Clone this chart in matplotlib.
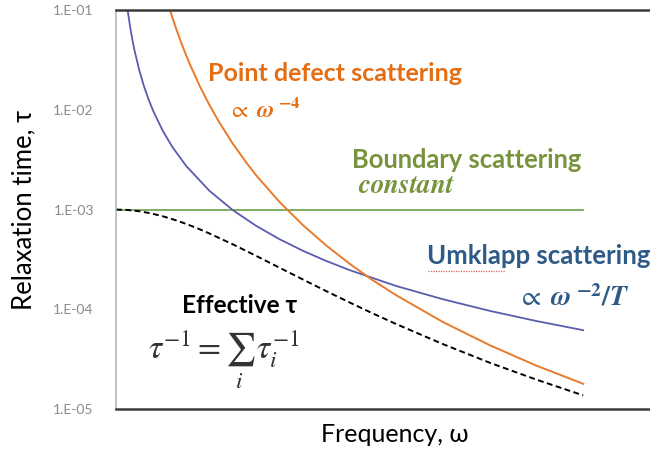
import matplotlib
matplotlib.use("Agg")
import matplotlib.pyplot as plt

plt.rcParams["font.family"] = ["Lato", "DejaVu Sans"]
plt.rcParams["mathtext.fontset"] = "stix"

# ── values (frequency in arbitrary units) ────────────────────────────────
umklapp_w = [0.25, 0.3, 0.35, 0.4, 0.5, 0.6, 0.7, 0.8, 1.0, 1.2, 1.5, 2.0,
             2.5, 3.0, 3.5, 4.0, 4.5, 5.0, 6.0, 7.0, 8.0, 9.0, 10.0]
umklapp_tau = [0.0987, 0.0686, 0.0504, 0.0386, 0.0247, 0.0171, 0.0126,
               0.00964, 0.00617, 0.00428, 0.00274, 0.00154, 0.000987,
               0.000686, 0.000504, 0.000386, 0.000305, 0.000247, 0.000171,
               0.000126, 9.64e-5, 7.62e-5, 6.17e-5]

point_w = [1.16, 1.2, 1.3, 1.4, 1.5, 1.6, 1.8, 2.0, 2.2, 2.5, 2.8, 3.0,
           3.5, 4.0, 4.5, 5.0, 5.5, 6.0, 7.0, 8.0, 9.0, 10.0]
point_tau = [0.0986, 0.0861, 0.0625, 0.0465, 0.0353, 0.0273, 0.0170,
             0.01116, 0.00762, 0.00457, 0.00291, 0.00220, 0.00119,
             0.000698, 0.000436, 0.000286, 0.000195, 0.000138, 7.44e-5,
             4.36e-5, 2.72e-5, 1.79e-5]

boundary_w = [0.0, 10.0]
boundary_tau = [1e-3, 1e-3]

eff_w = [0.0, 0.25, 0.5, 0.75, 1.0, 1.25, 1.5, 1.75, 2.0, 2.5, 3.0, 3.5,
         4.0, 4.5, 5.0, 5.5, 6.0, 7.0, 8.0, 9.0, 10.0]
eff_tau = [1.0e-3, 9.90e-4, 9.61e-4, 9.15e-4, 8.56e-4, 7.89e-4, 7.18e-4,
           6.46e-4, 5.75e-4, 4.48e-4, 3.43e-4, 2.61e-4, 1.99e-4, 1.52e-4,
           1.17e-4, 9.07e-5, 7.10e-5, 4.47e-5, 2.91e-5, 1.97e-5, 1.37e-5]

y_ticks = [1e-5, 1e-4, 1e-3, 1e-2, 1e-1]
y_labels = ["1.E-05", "1.E-04", "1.E-03", "1.E-02", "1.E-01"]

ORANGE = "#E97A2B"
ORANGE_TXT = "#E56D12"
BLUE = "#5A5CAE"
BLUE_TXT = "#2E5A86"
GREEN = "#6A9E4A"
GREEN_TXT = "#77933C"

fig = plt.figure(figsize=(6.5, 4.57), dpi=100)
ax = fig.add_axes([0.1785, 0.105, 0.8215, 0.873])

ax.plot(boundary_w, boundary_tau, color=GREEN, lw=1.2)
ax.plot(umklapp_w, umklapp_tau, color=BLUE, lw=1.3)
ax.plot(point_w, point_tau, color=ORANGE, lw=1.4)
ax.plot(eff_w, eff_tau, color="black", lw=1.4, ls=(0, (3, 1.8)))

ax.set_yscale("log")
ax.set_ylim(1e-5, 1e-1)
ax.set_xlim(0, 11.43)
ax.set_yticks(y_ticks)
ax.set_yticklabels(y_labels, fontsize=10, color="#8a8a8a")
ax.minorticks_off()
ax.set_xticks([])
ax.tick_params(axis="y", length=0, pad=16)

for side in ("top", "bottom"):
    ax.spines[side].set_color("#3c3c3c")
    ax.spines[side].set_linewidth(1.8)
ax.spines["left"].set_color("#b8b8b8")
ax.spines["left"].set_linewidth(1.2)
ax.spines["right"].set_visible(False)

ax.set_ylabel("Relaxation time, τ", fontsize=18.5, labelpad=12)
ax.set_xlabel("Frequency, ω", fontsize=18)
ax.xaxis.set_label_coords(0.522, -0.035)

# annotations
ax.text(0.172, 0.842, "Point defect scattering", transform=ax.transAxes,
        color=ORANGE_TXT, fontsize=18, fontweight="bold", va="center")
ax.text(0.21, 0.752, r"$\propto\ \boldsymbol{\omega}^{\ \boldsymbol{-4}}$",
        transform=ax.transAxes, color=ORANGE_TXT, fontsize=17, va="center")
ax.text(0.442, 0.624, "Boundary scattering", transform=ax.transAxes,
        color=GREEN_TXT, fontsize=18.4, fontweight="bold", va="center")
ax.text(0.453, 0.561, r"$\boldsymbol{constant}$", transform=ax.transAxes,
        color=GREEN_TXT, fontsize=19.5, va="center")
ax.text(0.582, 0.383, "Umklapp scattering", transform=ax.transAxes,
        color=BLUE_TXT, fontsize=18.5, fontweight="bold", va="center")
ax.plot([0.584, 0.728], [0.345, 0.345], transform=ax.transAxes,
        color="#e06060", lw=0.9, ls=(0, (1, 1)))
ax.text(0.751, 0.281, r"$\propto\ \boldsymbol{\omega}^{\ \boldsymbol{-2}}\boldsymbol{/T}$",
        transform=ax.transAxes, color=BLUE_TXT, fontsize=20, va="center")
ax.text(0.124, 0.26, "Effective τ", transform=ax.transAxes,
        color="black", fontsize=17.6, fontweight="bold", va="center")
ax.text(0.06, 0.128, r"$\tau^{-1} = \sum_{i}\, \tau_i^{-1}$",
        transform=ax.transAxes, color="#333333", fontsize=24, va="baseline")

fig.savefig("out.png", dpi=100)
